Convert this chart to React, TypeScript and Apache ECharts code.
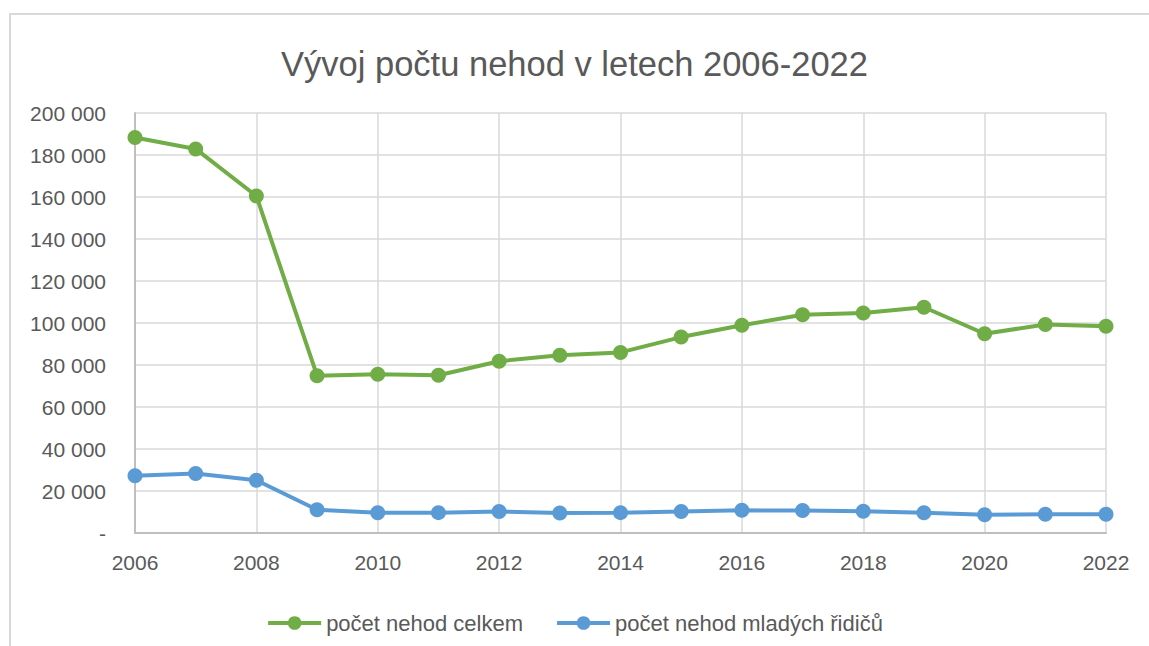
import React, { useEffect, useRef } from "react";
import * as echarts from "echarts";

const years = ["2006","2007","2008","2009","2010","2011","2012","2013","2014","2015","2016","2017","2018","2019","2020","2021","2022"];
const totalAccidents = [188300, 182900, 160500, 74900, 75600, 75100, 81800, 84600, 86000, 93300, 98900, 103900, 104800, 107500, 94900, 99300, 98500];
const youngDriverAccidents = [27300, 28300, 25100, 11100, 9600, 9700, 10200, 9500, 9700, 10200, 10800, 10700, 10300, 9600, 8700, 8900, 8900];
const seriesNames = ["počet nehod celkem", "počet nehod mladých řidičů"];
const titleText = "Vývoj počtu nehod v letech 2006-2022";

const FONT = "'Liberation Sans', Arial, sans-serif";
const TXT = "#595959";

function fmt(v: number): string {
  if (v === 0) return "-";
  return String(v).replace(/\B(?=(\d{3})+(?!\d))/g, " ");
}

export default function App() {
  const ref = useRef<HTMLDivElement>(null);
  useEffect(() => {
    if (!ref.current) return;
    const chart = echarts.init(ref.current, undefined, { renderer: "svg" });
    chart.setOption({
      animation: false,
      backgroundColor: "#ffffff",
      title: {
        text: titleText,
        left: "center",
        top: 41,
        textStyle: { fontFamily: FONT, fontSize: 34.5, fontWeight: "normal", color: TXT },
      },
      graphic: [
        {
          type: "rect",
          shape: { x: 10, y: 14, width: 1300, height: 800 },
          style: { fill: "none", stroke: "#d9d9d9", lineWidth: 2 },
          silent: true,
        },
      ],
      legend: {
        top: 607,
        left: "center",
        itemWidth: 53,
        itemHeight: 17,
        itemGap: 32,
        lineStyle: { width: 4 },
        textStyle: { fontFamily: FONT, fontSize: 22, color: TXT },
        data: seriesNames,
      },
      grid: { left: 135, right: 43, top: 113, bottom: 113, containLabel: false },
      xAxis: {
        type: "category",
        data: years,
        boundaryGap: false,
        axisLine: { show: true, lineStyle: { color: "#bfbfbf", width: 2 } },
        axisTick: { show: false },
        axisLabel: {
          interval: 1,
          margin: 19,
          fontFamily: FONT,
          fontSize: 21,
          color: TXT,
        },
        splitLine: { show: true, interval: 1, lineStyle: { color: "#d9d9d9", width: 1.5 } },
      },
      yAxis: {
        type: "value",
        min: 0,
        max: 200000,
        interval: 20000,
        axisLine: { show: true, lineStyle: { color: "#bfbfbf", width: 2 } },
        axisTick: { show: false },
        axisLabel: {
          margin: 29,
          fontFamily: FONT,
          fontSize: 21,
          color: TXT,
          formatter: (v: number) => fmt(v),
        },
        splitLine: { show: true, lineStyle: { color: "#d9d9d9", width: 1.5 } },
      },
      series: [
        {
          name: seriesNames[0],
          type: "line",
          data: totalAccidents,
          symbol: "circle",
          symbolSize: 15,
          color: "#70ad47",
          lineStyle: { width: 4, color: "#70ad47" },
          itemStyle: { color: "#70ad47" },
        },
        {
          name: seriesNames[1],
          type: "line",
          data: youngDriverAccidents,
          symbol: "circle",
          symbolSize: 15,
          color: "#5b9bd5",
          lineStyle: { width: 4, color: "#5b9bd5" },
          itemStyle: { color: "#5b9bd5" },
        },
      ],
    });
    return () => chart.dispose();
  }, []);
  return (
    <div
      ref={ref}
      style={{ position: "fixed", left: 0, top: 0, width: 1149, height: 646 }}
    />
  );
}
